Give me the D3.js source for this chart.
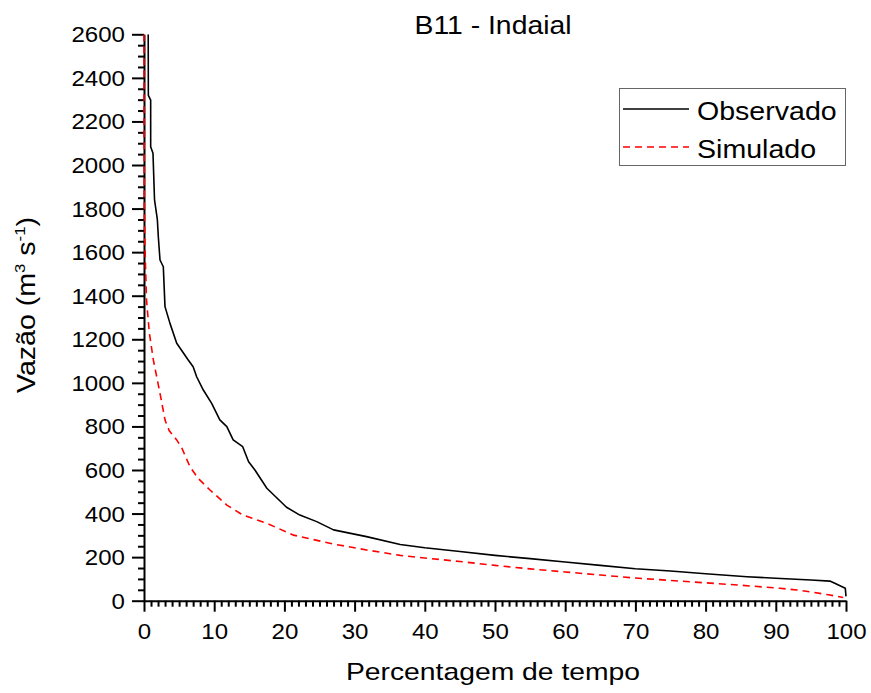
<!DOCTYPE html>
<html>
<head>
<meta charset="utf-8">
<script src="https://cdn.jsdelivr.net/npm/d3@7"></script>
<style>
  html, body { margin: 0; padding: 0; background: #fff; }
  svg { display: block; font-family: "Liberation Sans", Arial, sans-serif; }
</style>
</head>
<body>
<svg id="chart" width="871" height="693"></svg>
<script>
// Flow-duration curves, station B11 - Indaial
// [percentage of time exceeded, discharge m3/s]
const observado = [
  [0.6, 2600], [0.62, 2320], [0.95, 2298], [0.95, 2084], [1.28, 2054],
  [1.5, 1840], [1.9, 1750], [2.04, 1671], [2.28, 1564], [2.75, 1533],
  [2.99, 1350], [3.7, 1273], [4.66, 1182], [6.3, 1105], [7.0, 1074],
  [7.5, 1028], [8.45, 967], [9.64, 906], [10.8, 830], [11.8, 799],
  [12.7, 738], [14.06, 707], [14.9, 638], [15.8, 600], [17.5, 516],
  [20.3, 429], [22.2, 393], [24.6, 363], [27.0, 325], [31.7, 294],
  [36.5, 258], [40.0, 243], [45.0, 226], [50.0, 208], [55.0, 193],
  [60.0, 178], [65.0, 162], [70.0, 147], [75.0, 136], [80.0, 124],
  [85.9, 110], [90.0, 103], [95.0, 95], [97.7, 90], [98.4, 80],
  [99.9, 57], [100, 20]
];
const simulado = [
  [0, 2600], [0.01, 2200], [0.03, 1840], [0.12, 1640], [0.36, 1380],
  [0.76, 1230], [1.33, 1105], [2.28, 952], [3.0, 829], [3.6, 780],
  [4.66, 738], [5.4, 700], [6.55, 615], [7.7, 562], [9.4, 508],
  [11.8, 439], [14.1, 393], [17.5, 355], [21.3, 301], [27.0, 260],
  [31.7, 233], [36.5, 208], [40.0, 196], [45.0, 180], [50.0, 162],
  [55.0, 146], [60.0, 132], [65.0, 118], [70.0, 104], [75.0, 93],
  [80.0, 82], [85.0, 71], [90.6, 57], [93.0, 49], [95.4, 38],
  [97.5, 27], [99.6, 15]
];
const xTicks = [0, 10, 20, 30, 40, 50, 60, 70, 80, 90, 100];
const yTicks = [0, 200, 400, 600, 800, 1000, 1200, 1400, 1600, 1800, 2000, 2200, 2400, 2600];
const seriesNames = ["Observado", "Simulado"];
const title = "B11 - Indaial";
const xTitle = "Percentagem de tempo";

const svg = d3.select("#chart");
const x = d3.scaleLinear().domain([0, 100]).range([144, 846]);
const y = d3.scaleLinear().domain([0, 2600]).range([600.7, 34.3]);

// minor ticks
const xMinor = d3.range(0, 101, 1).filter(v => v % 10 !== 0);
const yMinor = d3.range(0, 2601, 50).filter(v => v % 200 !== 0);

const xAxis = svg.append("g").attr("transform", `translate(0,${y(0)})`);
xAxis.call(d3.axisBottom(x).tickValues(xMinor).tickSize(6).tickFormat(""));
xAxis.call(g => g.select(".domain").remove());
const xAxisMajor = svg.append("g").attr("transform", `translate(0,${y(0)})`)
  .call(d3.axisBottom(x).tickValues(xTicks).tickSize(11).tickSizeOuter(0).tickPadding(10).tickFormat(d3.format("d")));

const yAxis = svg.append("g").attr("transform", `translate(${x(0)},0)`);
yAxis.call(d3.axisLeft(y).tickValues(yMinor).tickSize(6).tickFormat(""));
yAxis.call(g => g.select(".domain").remove());
const yAxisMajor = svg.append("g").attr("transform", `translate(${x(0)},0)`)
  .call(d3.axisLeft(y).tickValues(yTicks).tickSize(12).tickSizeOuter(0).tickPadding(8).tickFormat(d3.format("d")));

svg.selectAll(".tick line").attr("stroke", "#000").attr("stroke-width", 2);
svg.selectAll(".domain").attr("stroke", "#000").attr("stroke-width", 2);

// tick labels: slightly wide glyphs
xAxisMajor.selectAll(".tick text")
  .attr("fill", "#000").attr("font-size", 21.5)
  .attr("font-family", "Liberation Sans, Arial, sans-serif")
  .attr("dy", null).attr("y", null)
  .attr("transform", "translate(0,38) scale(1.12,1)");
yAxisMajor.selectAll(".tick text")
  .attr("fill", "#000").attr("font-size", 21.5)
  .attr("font-family", "Liberation Sans, Arial, sans-serif")
  .attr("x", null).attr("dy", null)
  .attr("transform", "translate(-19,7.5) scale(1.12,1)");

// curves drawn over the axes, clipped to the value range
svg.append("clipPath").attr("id", "plotclip")
  .append("rect")
  .attr("x", x(0) - 2).attr("y", y(2600))
  .attr("width", x(100) - x(0) + 4).attr("height", y(0) - y(2600));

const line = d3.line().x(d => x(d[0])).y(d => y(d[1]));

const curves = svg.append("g").attr("clip-path", "url(#plotclip)");
curves.append("path").datum(observado)
  .attr("d", line).attr("fill", "none")
  .attr("stroke", "#000").attr("stroke-width", 1.6)
  .attr("stroke-linejoin", "round");
curves.append("path").datum(simulado)
  .attr("d", line).attr("fill", "none")
  .attr("stroke", "#ff0000").attr("stroke-width", 1.6)
  .attr("stroke-dasharray", "7,5");

// title
svg.append("text")
  .attr("transform", "translate(493,34) scale(1.09,1)")
  .attr("text-anchor", "middle").attr("font-size", 26).attr("fill", "#000")
  .text(title);

// x axis title
svg.append("text")
  .attr("transform", "translate(493,680) scale(1.18,1)")
  .attr("text-anchor", "middle").attr("font-size", 24).attr("fill", "#000")
  .text(xTitle);

// y axis title with superscripts
const yt = svg.append("text")
  .attr("transform", "translate(35,305) rotate(-90) scale(1.12,1)")
  .attr("text-anchor", "middle").attr("font-size", 25.5).attr("fill", "#000");
yt.append("tspan").text("Vazão (m");
yt.append("tspan").attr("font-size", 15).attr("dy", -10).text("3");
yt.append("tspan").attr("dy", 10).text(" s");
yt.append("tspan").attr("font-size", 15).attr("dy", -10).text("-1");
yt.append("tspan").attr("dy", 10).text(")");

// legend
const legend = svg.append("g");
legend.append("rect")
  .attr("x", 619.5).attr("y", 88.5).attr("width", 226).attr("height", 77)
  .attr("fill", "#fff").attr("stroke", "#666").attr("stroke-width", 1);
const legendRows = [
  { name: seriesNames[0], color: "#000", dash: null, ly: 109, ty: 120 },
  { name: seriesNames[1], color: "#ff0000", dash: "7,5", ly: 147, ty: 158 }
];
legendRows.forEach(r => {
  legend.append("line")
    .attr("x1", 623).attr("x2", 689).attr("y1", r.ly).attr("y2", r.ly)
    .attr("stroke", r.color).attr("stroke-width", 1.6)
    .attr("stroke-dasharray", r.dash);
  legend.append("text")
    .attr("transform", `translate(697,${r.ty}) scale(1.12,1)`)
    .attr("font-size", 25.5).attr("fill", "#000").text(r.name);
});
</script>
</body>
</html>
